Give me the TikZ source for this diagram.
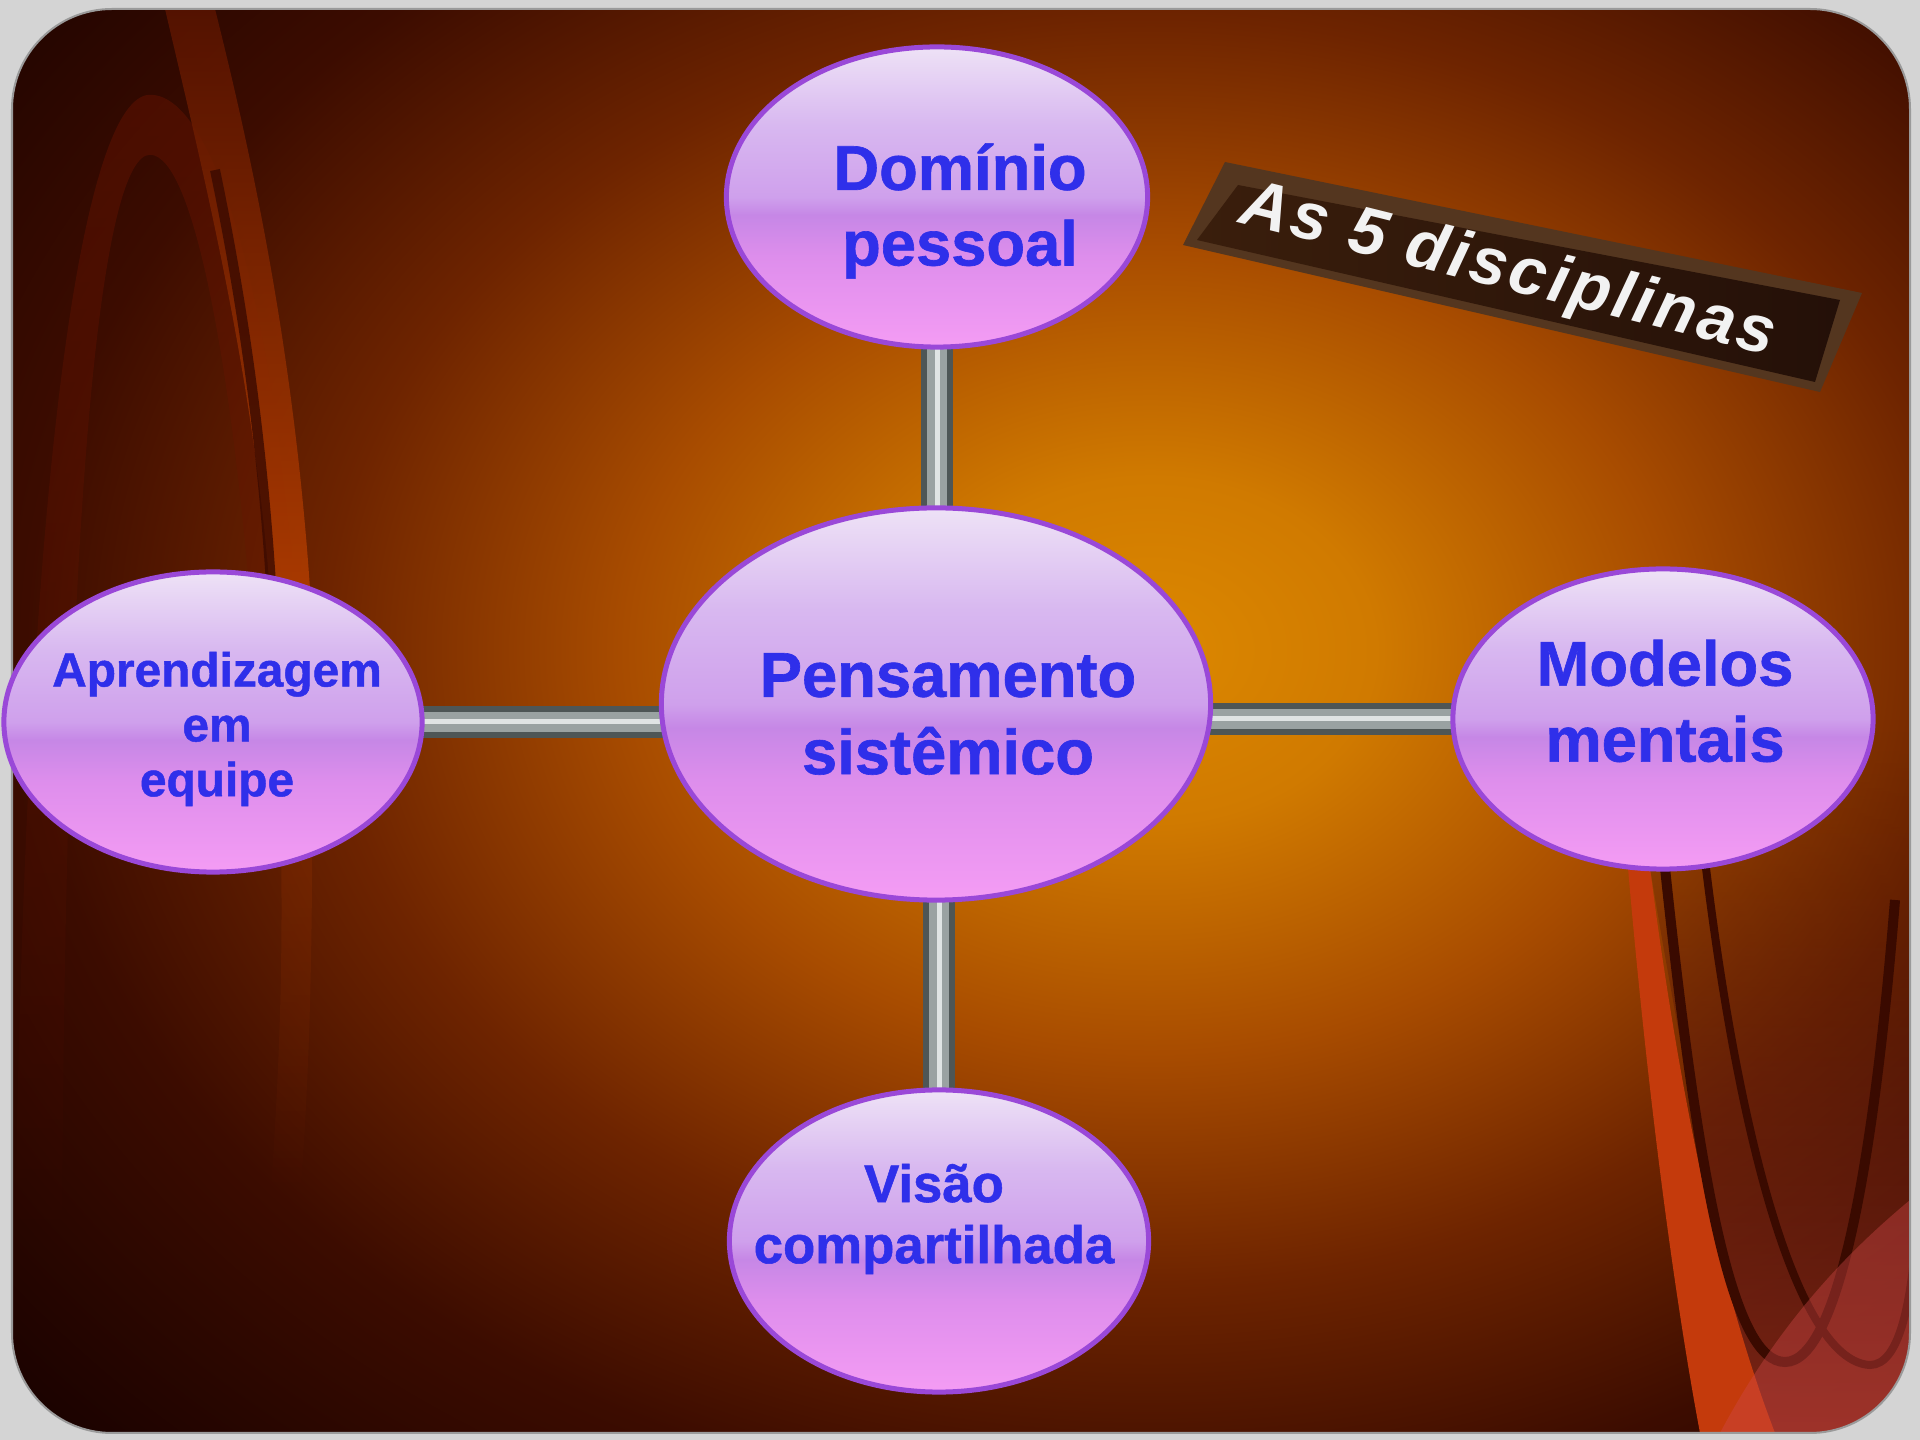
\documentclass[tikz,border=0pt]{standalone}
\usepackage{fontspec}
\usetikzlibrary{shapes.geometric,backgrounds,fadings}
\newfontfamily\balloonfont{Liberation Sans Bold}[FakeBold=1]
\newfontfamily\bannerfont{Liberation Sans}[LetterSpace=5]

\definecolor{pagegrey}{HTML}{D4D4D4}
\definecolor{frameline}{HTML}{9A9A9A}
\definecolor{bgA}{HTML}{DC8800}
\definecolor{bgB}{HTML}{D07A00}
\definecolor{bgC}{HTML}{A84C00}
\definecolor{bgD}{HTML}{6E2400}
\definecolor{bgE}{HTML}{3C0C00}
\definecolor{bgF}{HTML}{1A0200}
\definecolor{curtainTop}{HTML}{5A1400}
\definecolor{curtainRed}{HTML}{B84000}
\definecolor{curtainDark}{HTML}{6A1400}
\definecolor{curtainShade}{HTML}{3A0A00}
\definecolor{curtainBright}{HTML}{C43A0C}
\definecolor{curtainDeep}{HTML}{8A2A1A}
\definecolor{curtainNight}{HTML}{2A0604}
\definecolor{curtainPink}{HTML}{D04848}
\definecolor{blobTop}{HTML}{EEE2F6}
\definecolor{blobUp}{HTML}{D8B8F0}
\definecolor{blobBand}{HTML}{CFA0EC}
\definecolor{blobMid}{HTML}{C687E6}
\definecolor{blobLow}{HTML}{DE8EEC}
\definecolor{blobBot}{HTML}{F49CF4}
\definecolor{blobRim}{HTML}{9A48D8}
\definecolor{blobText}{HTML}{2F2FEA}
\definecolor{rodDark}{HTML}{4E5656}
\definecolor{rodMid}{HTML}{9AA2A2}
\definecolor{rodHi}{HTML}{E0E4E4}
\definecolor{bannerEdge}{HTML}{54361F}
\definecolor{bannerL}{HTML}{3A1E0C}
\definecolor{bannerR}{HTML}{241008}
\definecolor{bannerText}{HTML}{F2F2F2}

\pgfdeclareradialshading{slidebg}{\pgfpoint{0bp}{0bp}}{color(0bp)=(bgA); color(3.75bp)=(bgB); color(8.75bp)=(bgC); color(13.75bp)=(bgD); color(18.75bp)=(bgE); color(25bp)=(bgF); color(50bp)=(bgF)}
\pgfdeclareverticalshading{glossy}{100bp}{color(0bp)=(blobBot); color(25bp)=(blobBot); color(40bp)=(blobLow); color(47bp)=(blobMid); color(50bp)=(blobBand); color(62bp)=(blobUp); color(75bp)=(blobTop); color(100bp)=(blobTop)}

\begin{document}
\begin{tikzpicture}[x=0.01cm, y=-0.01cm,
    blob/.style={ellipse, shade, shading=glossy, draw=blobRim, line width=0.5mm,
      inner sep=0pt},
    blobtext/.style={align=center, text=blobText, inner sep=0pt},
    rod/.style={draw=rodDark, line width=3.2mm,
      postaction={draw=rodMid, line width=2mm},
      postaction={draw=rodHi, line width=0.5mm}}]

  \useasboundingbox (0,0) rectangle (1920,1440);

  % slide backdrop
  \begin{scope}[on background layer]
    \fill[pagegrey] (0,0) rectangle (1920,1440);
    \begin{scope}
      \clip[rounded corners=1cm] (12,9) rectangle (1910,1433);
      \shade[shading=slidebg] (1150,650) ellipse (1500 and 1150);
      % left curtain
      \fill[curtainDark, opacity=.45, path fading=south] (15,1250) .. controls (25,450) and (85,95) .. (150,95)
        .. controls (220,95) and (275,330) .. (295,600) -- (250,600)
        .. controls (232,380) and (195,155) .. (150,155)
        .. controls (105,155) and (65,450) .. (62,1250) -- cycle;
      \shade[top color=curtainTop, bottom color=curtainRed, opacity=.85]
        (165,9) .. controls (210,200) and (258,400) .. (272,620)
        -- (312,620) .. controls (298,380) and (258,180) .. (215,9) -- cycle;
      \fill[curtainRed, opacity=.3, path fading=south] (272,600) .. controls (285,850) and (285,1000) .. (270,1200)
        -- (300,1200) .. controls (315,1000) and (312,850) .. (312,600) -- cycle;
      \draw[curtainShade, line width=1mm, opacity=.8] (215,170) .. controls (240,290) and (262,430) .. (272,600);
      % right curtain
      \shade[top color=curtainNight, bottom color=curtainDeep, opacity=.85, path fading=north]
        (1650,868) .. controls (1740,860) and (1820,820) .. (1873,720) -- (1910,720) -- (1910,1433)
        -- (1760,1433) .. controls (1720,1250) and (1680,1050) .. (1650,868) -- cycle;
      \fill[curtainBright] (1628,868) .. controls (1648,1100) and (1675,1300) .. (1700,1433)
        -- (1775,1433) .. controls (1720,1290) and (1680,1100) .. (1650,868) -- cycle;
      \draw[curtainShade, line width=1mm] (1665,868) .. controls (1700,1200) and (1735,1362) .. (1785,1362)
        .. controls (1840,1362) and (1875,1150) .. (1895,900);
      \draw[curtainShade, line width=0.8mm] (1705,860) .. controls (1740,1150) and (1800,1362) .. (1870,1365)
        .. controls (1900,1365) and (1910,1300) .. (1915,1250);
      \fill[curtainPink, opacity=.4] (1720,1433) .. controls (1780,1320) and (1850,1250) .. (1910,1200)
        -- (1910,1433) -- cycle;
    \end{scope}
    \draw[frameline, line width=0.2mm, rounded corners=1cm] (12,9) rectangle (1910,1433);
  \end{scope}

  % the five disciplines
  \node[blob, minimum width=5.49cm, minimum height=3.92cm,
    label={[blobtext, name=psText, xshift=1.2mm, yshift=-1mm,
      font=\balloonfont\fontsize{18}{22}\selectfont]center:Pensamento\\sistêmico}] (ps) at (936,704) {};
  \node[blob, minimum width=4.21cm, minimum height=3cm,
    label={[blobtext, name=dpText, xshift=2.3mm, yshift=-1.4mm,
      font=\balloonfont\fontsize{18}{21.5}\selectfont]center:Domínio\\pessoal}] (dp) at (937,197) {};
  \node[blob, minimum width=4.18cm, minimum height=3cm,
    label={[blobtext, name=aeText, xshift=0.4mm, yshift=-0.7mm,
      font=\balloonfont\fontsize{13.6}{15.6}\selectfont]center:Aprendizagem\\em\\equipe}] (ae) at (213,722) {};
  \node[blob, minimum width=4.2cm, minimum height=3cm,
    label={[blobtext, name=mmText, xshift=0.2mm, yshift=1.8mm,
      font=\balloonfont\fontsize{18}{21.6}\selectfont]center:Modelos\\mentais}] (mm) at (1663,719) {};
  \node[blob, minimum width=4.19cm, minimum height=3.02cm,
    label={[blobtext, name=vcText, xshift=-0.5mm, yshift=2.2mm,
      font=\balloonfont\fontsize{15}{17.4}\selectfont]center:Visão\\compartilhada}] (vc) at (939,1241) {};

  % rods behind the balloons
  \begin{scope}[on background layer]
    \foreach \from/\to in {dp/ps,vc/ps}
      \draw[rod] (\from.center) -- (\from.center |- \to.center);
    \foreach \from/\to in {ae/ps,mm/ps}
      \draw[rod] (\from.center) -- (\from.center -| \to.center);
  \end{scope}

  % title plate
  \coordinate (b1) at (1225,162);
  \coordinate (b2) at (1862,293);
  \coordinate (b3) at (1820,392);
  \coordinate (b4) at (1183,245);
  \fill[bannerEdge] (b1) -- (b2) -- (b3) -- (b4) -- cycle;
  \shade[left color=bannerL, right color=bannerR] (1238,185) -- (1840,300) -- (1815,382) -- (1197,240) -- cycle;
  \node[rotate=-14, text=bannerText,
    font=\bannerfont\bfseries\itshape\fontsize{19}{22}\selectfont] (title) at (1508,272) {As 5 disciplinas};
\end{tikzpicture}
\end{document}
